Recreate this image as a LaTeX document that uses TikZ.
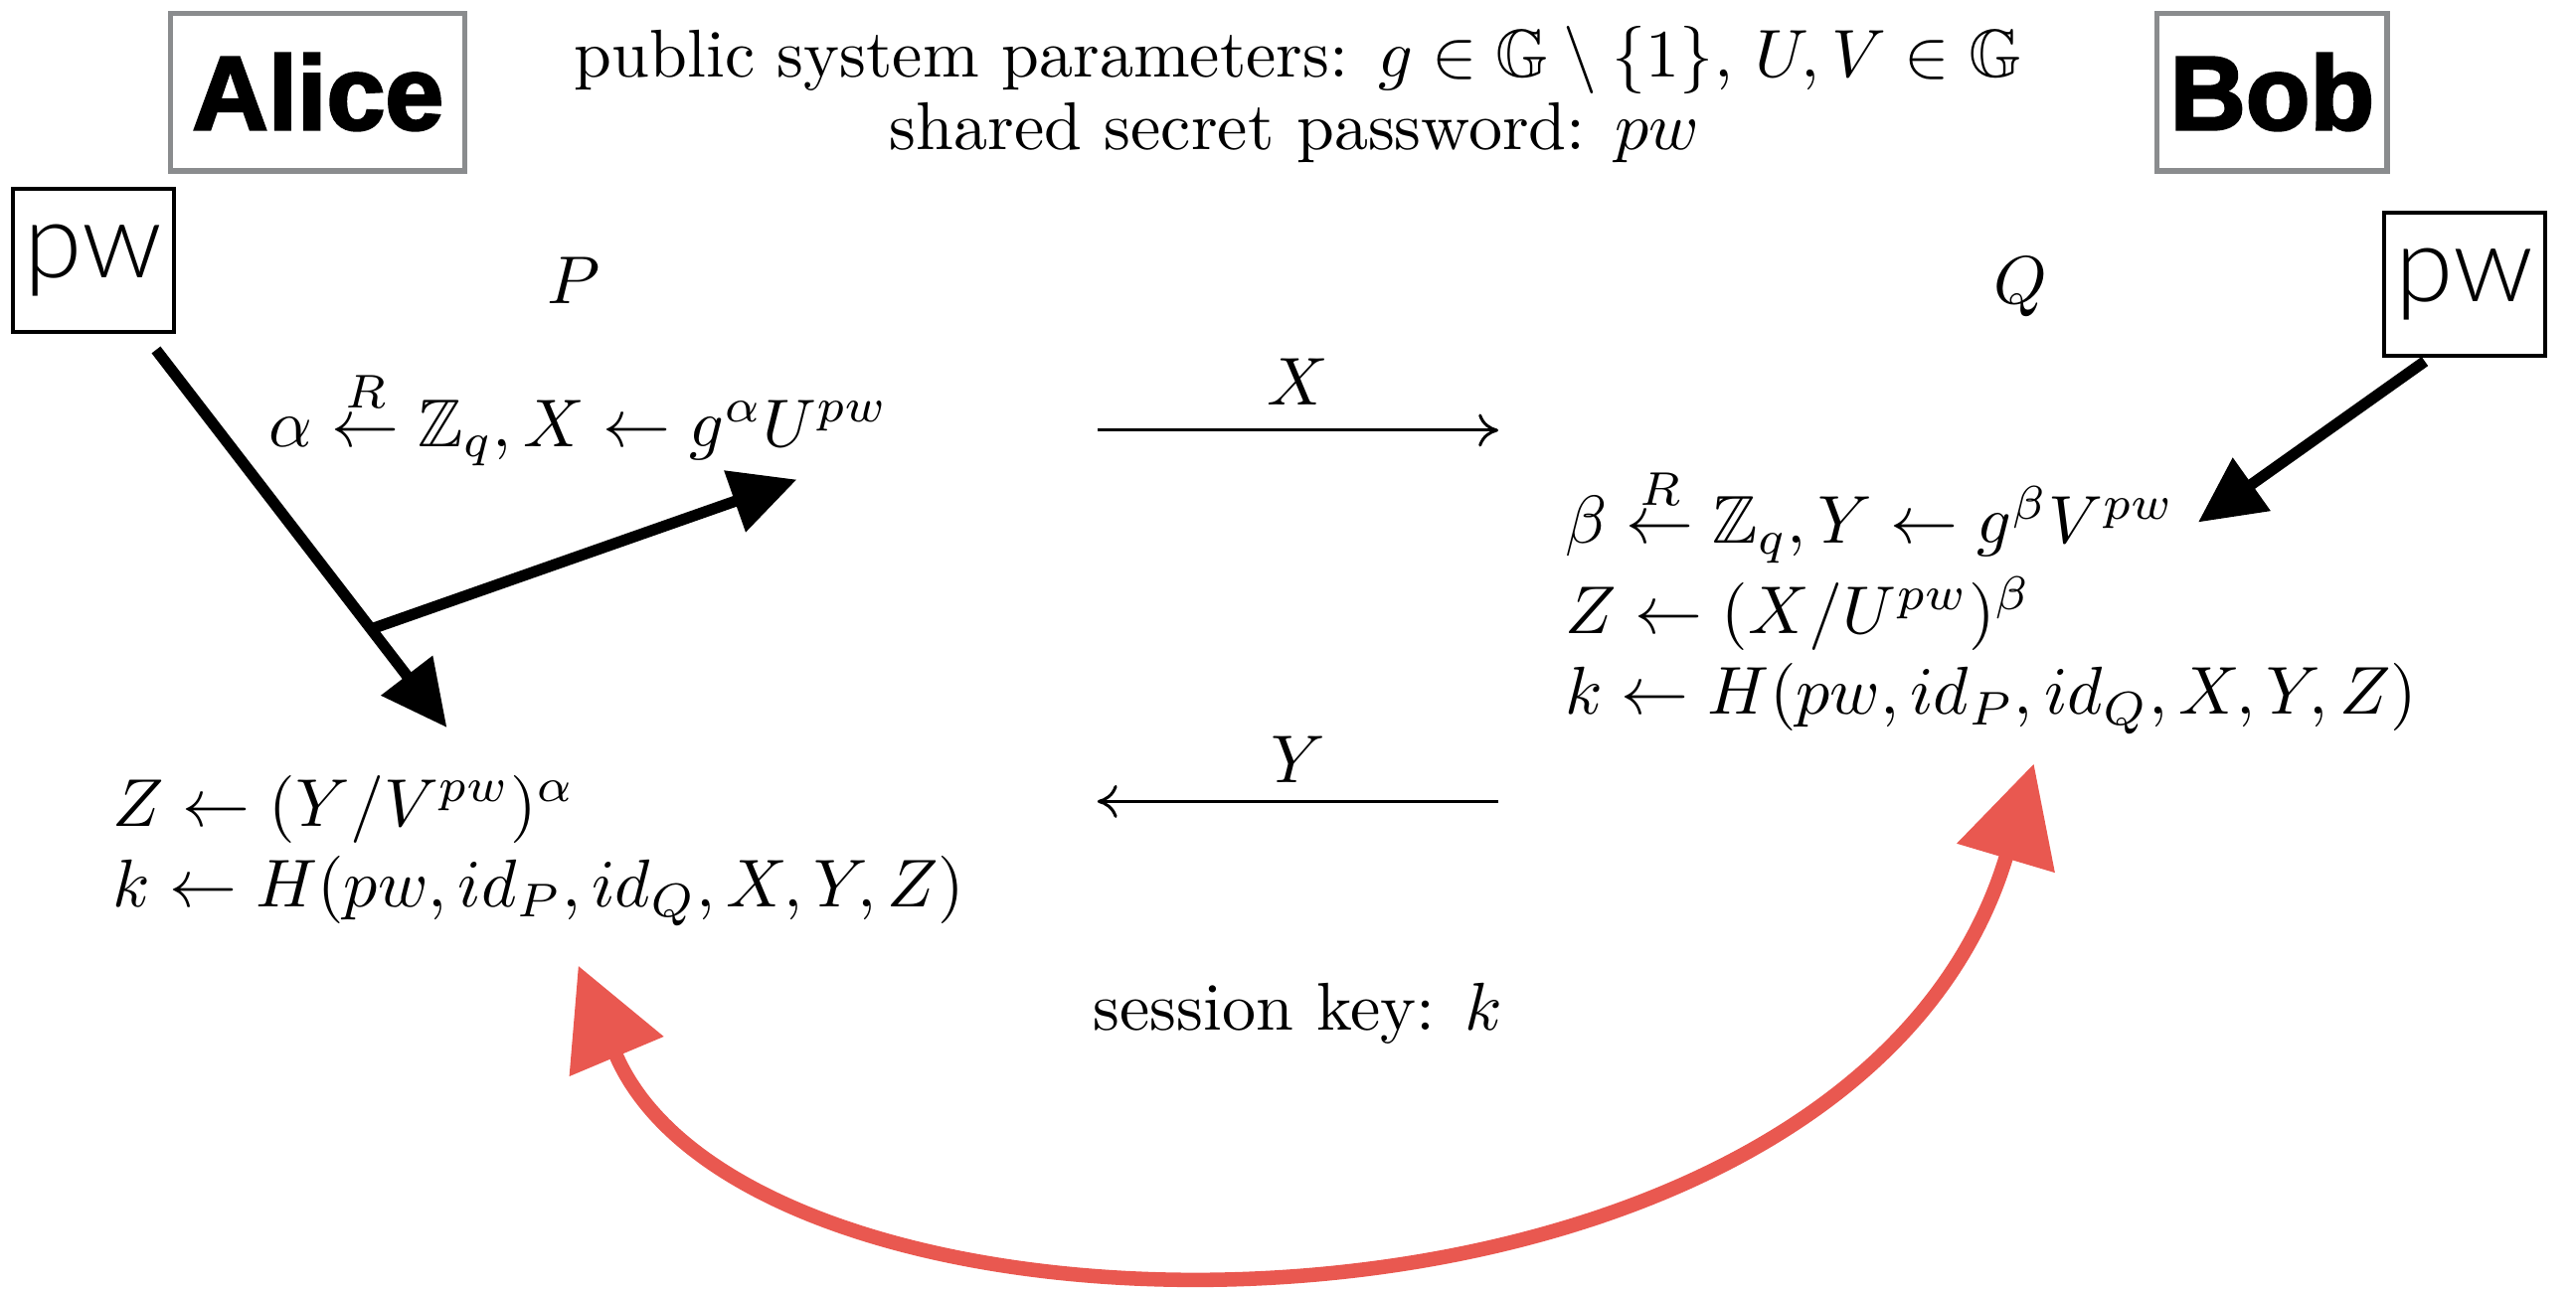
\documentclass[tikz,border=0pt]{standalone}
\usepackage{amsmath,amssymb}
\usepackage{fontspec}
\newfontfamily\heavyfont{Liberation Sans}[BoldFeatures={FakeBold=2.5}]
\newfontfamily\lightfont{Lato Light}
\usetikzlibrary{arrows.meta}
\definecolor{boxgray}{RGB}{138,140,142}
\definecolor{redarc}{RGB}{233,88,80}
\tikzset{
  txt/.style={inner sep=0pt, scale=1.03},
  namebox/.style={draw=boxgray, line width=0.8pt, inner sep=0pt, minimum height=24pt,
    font=\heavyfont\bfseries\fontsize{16}{18}\selectfont},
  pwbox/.style={draw=black, line width=0.6pt, inner sep=0pt, minimum width=24.5pt, minimum height=21.75pt,
    font=\lightfont\fontsize{16}{18}\selectfont},
  msg/.style={line width=0.45pt, -{Computer Modern Rightarrow[length=3pt,width=5pt]}},
  bigarrow/.style={line width=1.7pt, -{Triangle[length=10pt,width=9.5pt]}},
  redarrow/.style={draw=redarc, line width=2.2pt,
    {Triangle[length=15pt,width=15pt,fill=redarc]}-{Triangle[length=15pt,width=15pt,fill=redarc]}}
}
\begin{document}
\begin{tikzpicture}[x=0.25pt,y=-0.25pt]
\useasboundingbox (0,0) rectangle (1568,786);
% name boxes
\node[namebox, minimum width=44.75pt] (alice) at (193.5,56) {Alice};
\node[namebox, minimum width=35pt] (bob) at (1383,56) {Bob};
\node[pwbox] (pwL) at (57,158.5) {pw};
\node[pwbox] (pwR) at (1500,173) {pw};
% header
\node[txt, anchor=base] (pub) at (790,47) {public system parameters: $g\in\mathbb{G}\setminus\{1\}$, $U,V\in\mathbb{G}$};
\node[txt, anchor=base] (pwd) at (788,91) {shared secret password: $pw$};
\node[txt, anchor=base] (P) at (349,185) {$P$};
\node[txt, anchor=base] (Q) at (1230,185) {$Q$};
% computations
\node[txt, anchor=base west] (a1) at (163,272) {$\alpha \stackrel{R}{\leftarrow} \mathbb{Z}_q, X \leftarrow g^{\alpha}U^{pw}$};
\node[txt, anchor=base west] (b1) at (952,331) {$\beta \stackrel{R}{\leftarrow} \mathbb{Z}_q, Y \leftarrow g^{\beta}V^{pw}$};
\node[txt, anchor=base west] (b2) at (952,386) {$Z \leftarrow (X/U^{pw})^{\beta}$};
\node[txt, anchor=base west] (b3) at (952,435) {$k \leftarrow H(pw, id_P, id_Q, X, Y, Z)$};
\node[txt, anchor=base west] (a2) at (68,503) {$Z \leftarrow (Y/V^{pw})^{\alpha}$};
\node[txt, anchor=base west] (a3) at (68,552) {$k \leftarrow H(pw, id_P, id_Q, X, Y, Z)$};
\node[txt, anchor=base] (sk) at (790,627) {session key: $k$};
% messages
\coordinate (xs) at (668,262);
\coordinate (xe) at (912,262);
\coordinate (ys) at (912,488);
\coordinate (ye) at (668,488);
\draw[msg] (xs) -- node[txt, above=3.5pt] (xl) {$X$} (xe);
\draw[msg] (ys) -- node[txt, above=2.5pt] (yl) {$Y$} (ye);
% black arrows
\coordinate (l0) at (95,213);
\coordinate (ltip) at (272,443);
\coordinate (br) at (226,383);
\coordinate (btip) at (485,292);
\coordinate (r0) at (1476,220);
\coordinate (rtip) at (1338,318);
\draw[bigarrow] (l0) -- (ltip);
\draw[bigarrow] (br) -- (btip);
\draw[bigarrow] (r0) -- (rtip);
% red double arrow
\coordinate (redL) at (352,588);
\coordinate (redR) at (1238,465);
\draw[redarrow] (redL) .. controls (459,842) and (1126,842) .. (redR);
\end{tikzpicture}
\end{document}
